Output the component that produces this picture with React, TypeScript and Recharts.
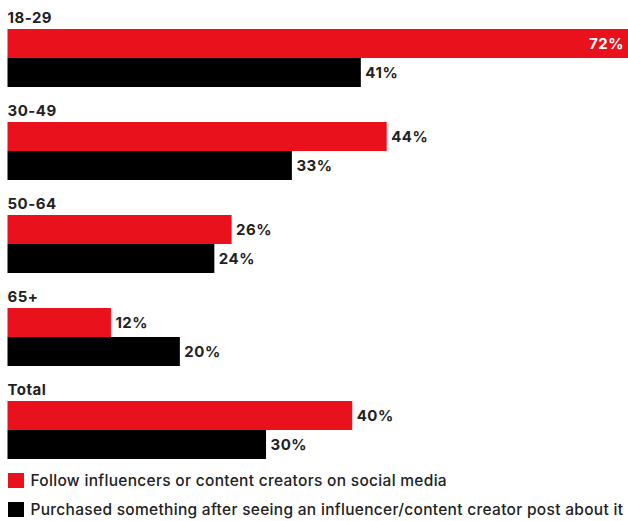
import React from 'react';
import { BarChart, Bar, XAxis, YAxis, LabelList } from 'recharts';

const categories = ['18-29', '30-49', '50-64', '65+', 'Total'];
const followValues = [72, 44, 26, 12, 40];
const purchasedValues = [41, 33, 24, 20, 30];
const seriesNames = [
  'Follow influencers or content creators on social media',
  'Purchased something after seeing an influencer/content creator post about it',
];
const seriesColors = ['#E8111C', '#000000'];

const data = categories.map((c, i) => ({
  name: c,
  follow: followValues[i],
  purchased: purchasedValues[i],
}));

const FONT = 'Inter, "Liberation Sans", sans-serif';
const TEXT = '#222222';

const CategoryLabel = (props: any) => {
  const { x, y, value } = props;
  return (
    <text x={x} y={y - 6.5} fill={TEXT} fontFamily={FONT} fontSize={15} fontWeight={700} letterSpacing={0.5}>
      {value}
    </text>
  );
};

const ValueLabel = (props: any) => {
  const { x, y, width, height, value } = props;
  const inside = x + width + 50 > 628;
  if (inside) {
    return (
      <text
        x={x + width - 4}
        y={y + height / 2}
        fill="#ffffff"
        textAnchor="end"
        dominantBaseline="central"
        fontFamily={FONT}
        fontSize={15}
        fontWeight={700}
        letterSpacing={0.5}
      >
        {value}%
      </text>
    );
  }
  return (
    <text
      x={x + width + 4.5}
      y={y + height / 2}
      fill={TEXT}
      textAnchor="start"
      dominantBaseline="central"
      fontFamily={FONT}
      fontSize={15}
      fontWeight={700}
      letterSpacing={0.5}
    >
      {value}%
    </text>
  );
};

export default function App() {
  return (
    <div style={{ position: 'absolute', left: 0, top: 0, width: 628, height: 521, background: '#fff' }}>
      <BarChart
        width={628}
        height={476}
        data={data}
        layout="vertical"
        margin={{ top: 11, right: 0, bottom: 0, left: 7.5 }}
        barCategoryGap={18}
        barGap={0}
      >
        <XAxis type="number" domain={[0, 72]} hide />
        <YAxis type="category" dataKey="name" hide />
        <Bar dataKey="follow" fill={seriesColors[0]} isAnimationActive={false}>
          <LabelList dataKey="name" content={CategoryLabel} />
          <LabelList dataKey="follow" content={ValueLabel} />
        </Bar>
        <Bar dataKey="purchased" fill={seriesColors[1]} isAnimationActive={false}>
          <LabelList dataKey="purchased" content={ValueLabel} />
        </Bar>
      </BarChart>
      {seriesNames.map((n, i) => (
        <div
          key={n}
          style={{
            position: 'absolute',
            left: 7.5,
            top: 473 + i * 28.5,
            height: 15,
            display: 'flex',
            alignItems: 'center',
            fontFamily: FONT,
            fontSize: 15.5,
            fontWeight: 500,
            letterSpacing: 0.3,
            color: TEXT,
            whiteSpace: 'nowrap',
          }}
        >
          <span style={{ display: 'inline-block', width: 16, height: 15, background: seriesColors[i], marginRight: 7 }} />
          <span>{n}</span>
        </div>
      ))}
    </div>
  );
}
